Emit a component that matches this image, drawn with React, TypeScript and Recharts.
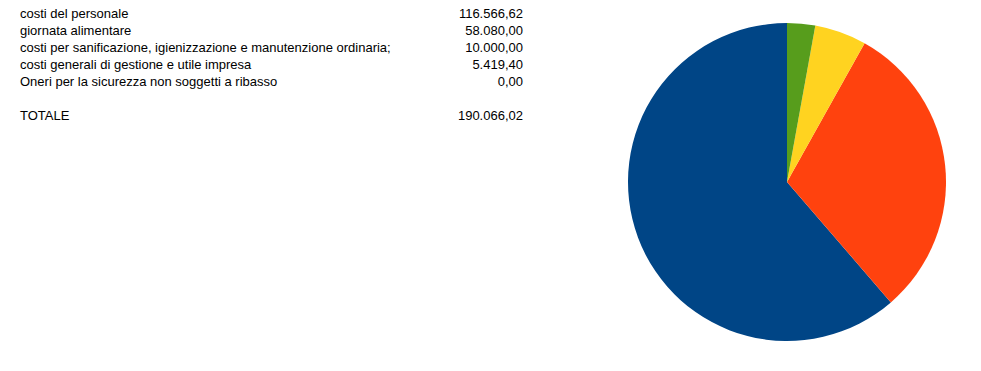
import { PieChart, Pie, Cell } from "recharts"

const LABELS = [
  "costi del personale",
  "giornata alimentare",
  "costi per sanificazione, igienizzazione e manutenzione ordinaria;",
  "costi generali di gestione e utile impresa",
  "Oneri per la sicurezza non soggetti a ribasso",
]

const VALUES = [116566.62, 58080.0, 10000.0, 5419.4, 0]

const VALUE_TEXT = ["116.566,62", "58.080,00", "10.000,00", "5.419,40", "0,00"]

const TOTAL_LABEL = "TOTALE"
const TOTAL_TEXT = "190.066,02"

const COLORS = ["#004586", "#ff420e", "#ffd320", "#579d1c", "#7e0021"]

const ROW_TOPS = [5, 22, 39, 56, 73]
const TOTAL_TOP = 107

const textStyle = {
  position: "absolute" as const,
  fontFamily: "'Liberation Sans', Arial, sans-serif",
  fontSize: 13,
  lineHeight: "17px",
  color: "#000",
  whiteSpace: "nowrap" as const,
}

export default function App() {
  const data = LABELS.map((name, i) => ({ name, value: VALUES[i] }))

  return (
    <div
      style={{
        position: "absolute",
        left: 0,
        top: 0,
        width: 981,
        height: 371,
        background: "#fff",
      }}
    >
      {LABELS.map((label, i) => (
        <div key={`l-${i}`} style={{ ...textStyle, left: 20, top: ROW_TOPS[i] }}>
          {label}
        </div>
      ))}
      {VALUE_TEXT.map((v, i) => (
        <div
          key={`v-${i}`}
          style={{ ...textStyle, right: 981 - 523, top: ROW_TOPS[i], textAlign: "right" }}
        >
          {v}
        </div>
      ))}
      <div style={{ ...textStyle, left: 20, top: TOTAL_TOP }}>{TOTAL_LABEL}</div>
      <div style={{ ...textStyle, right: 981 - 523, top: TOTAL_TOP, textAlign: "right" }}>
        {TOTAL_TEXT}
      </div>

      <div style={{ position: "absolute", left: 0, top: 0 }}>
        <PieChart width={981} height={371} margin={{ top: 0, right: 0, bottom: 0, left: 0 }}>
          <Pie
            data={data}
            dataKey="value"
            nameKey="name"
            cx={787}
            cy={182}
            outerRadius={159}
            startAngle={90}
            endAngle={450}
            stroke="none"
            isAnimationActive={false}
          >
            {data.map((entry, index) => (
              <Cell key={`cell-${index}`} fill={COLORS[index % COLORS.length]} />
            ))}
          </Pie>
        </PieChart>
      </div>
    </div>
  )
}
